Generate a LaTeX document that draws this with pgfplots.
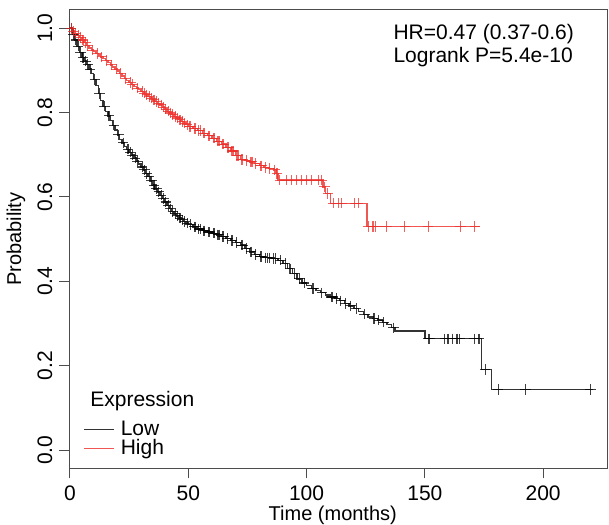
\documentclass[border=0pt]{standalone}
\usepackage{fontspec}
\setmainfont{Liberation Sans}
\usepackage{pgfplots}
\pgfplotsset{compat=1.18}
\usepackage{pgfplotstable}

\definecolor{kmred}{RGB}{236,45,40}

% Low expression: step points (time, survival)
\pgfplotstableread{
t p
0 1.0
1 0.985
2 0.972
3 0.957
4 0.942
5 0.93
6 0.922
7 0.914
8 0.903
9 0.892
10 0.878
11 0.864
12 0.845
13 0.828
14 0.815
15 0.803
16 0.792
17 0.781
18 0.770
19 0.759
20 0.747
21 0.736
22 0.728
23 0.72
24 0.713
25 0.706
26 0.699
27 0.692
28 0.685
29 0.678
30 0.671
31 0.664
32 0.656
33 0.648
34 0.638
35 0.628
36 0.619
37 0.612
38 0.604
39 0.596
40 0.588
41 0.58
42 0.572
43 0.566
44 0.56
45 0.555
46 0.55
47 0.546
48 0.542
49 0.538
50 0.535
52 0.529
54 0.524
56 0.52
58 0.517
60 0.514
62 0.51
64 0.506
66 0.502
68 0.497
70 0.492
72 0.486
74 0.478
76 0.47
78 0.464
80 0.459
82 0.456
85 0.454
88 0.45
90 0.442
92 0.43
94 0.418
96 0.406
98 0.396
100 0.39
102 0.383
104 0.378
106 0.373
108 0.368
110 0.363
112 0.359
114 0.354
116 0.348
118 0.342
120 0.336
122 0.329
124 0.322
126 0.316
128 0.312
130 0.308
132 0.303
134 0.298
136 0.29
137.3 0.282
150 0.264
174 0.191
178.2 0.144
221 0.144
}\lowcurve

% Low expression: censored times
\pgfplotstableread{
t p
0.5 1.0
1.5 0.985
2.5 0.972
3.5 0.957
4.5 0.942
5.5 0.93
6.5 0.922
7.5 0.914
8.5 0.903
10.5 0.878
12.5 0.845
14.5 0.815
16.5 0.792
18.5 0.770
20.5 0.747
22.5 0.728
24.5 0.713
25.5 0.706
26.5 0.699
27.5 0.692
28.5 0.685
30.5 0.671
31.5 0.664
32.5 0.656
33.5 0.648
34.5 0.638
35.5 0.628
36.5 0.619
37.5 0.612
38.5 0.604
39.5 0.596
40.5 0.588
41.5 0.58
42.5 0.572
43.5 0.566
44.5 0.56
45.5 0.555
46.5 0.55
47.5 0.546
48.5 0.542
49.5 0.538
51 0.535
52.5 0.529
53 0.529
54.5 0.524
55 0.524
56.5 0.52
57 0.52
58.5 0.517
59 0.517
60.5 0.514
61 0.514
62.5 0.51
63 0.51
64.5 0.506
65 0.506
66.5 0.502
68.5 0.497
70.5 0.492
72.5 0.486
73 0.486
74.5 0.478
76.5 0.47
78.5 0.464
80.5 0.459
81 0.459
82.5 0.456
83.5 0.456
84.5 0.456
86 0.454
87 0.454
89 0.45
91 0.442
93 0.43
95 0.418
97 0.406
99 0.396
102.5 0.383
103 0.383
106.5 0.373
110.5 0.363
111 0.363
112.5 0.359
114.5 0.354
116.5 0.348
118.5 0.342
121 0.336
124.5 0.322
128.5 0.312
130.5 0.308
132.5 0.303
136.8 0.29
151.4 0.264
152 0.264
158.4 0.264
159.8 0.264
161.7 0.264
163.6 0.264
164.8 0.264
170.8 0.264
172.9 0.264
175.5 0.191
181 0.144
192.5 0.144
220.1 0.144
}\lowcens

% High expression: step points
\pgfplotstableread{
t p
0 1.0
1 0.993
2 0.988
3 0.983
4 0.978
5 0.972
6 0.966
7 0.959
8 0.953
9 0.948
10 0.944
11 0.94
12 0.936
13 0.932
14 0.928
15 0.923
16 0.918
17 0.913
18 0.908
19 0.903
20 0.898
21 0.893
22 0.887
23 0.881
24 0.876
25 0.871
26 0.866
27 0.862
28 0.858
29 0.854
30 0.85
31 0.846
32 0.842
33 0.838
34 0.834
35 0.83
36 0.826
37 0.822
38 0.818
39 0.813
40 0.808
41 0.803
42 0.799
43 0.795
44 0.791
45 0.787
46 0.783
47 0.779
48 0.775
49 0.771
50 0.767
52 0.762
54 0.757
56 0.751
58 0.745
60 0.739
62 0.732
64 0.725
66 0.717
68 0.709
70 0.698
72 0.689
74 0.686
76 0.683
78 0.679
80 0.674
82 0.67
84 0.667
86 0.664
87 0.656
88 0.64
107 0.624
108 0.608
110 0.585
125.5 0.53
173.2 0.53
}\highcurve

% High expression: censored times
\pgfplotstableread{
t p
0.5 1.0
1.5 0.993
2.5 0.988
3.5 0.983
4.5 0.978
5.5 0.972
6.5 0.966
7.5 0.959
9.5 0.948
11.5 0.94
13.5 0.932
15.5 0.923
17.5 0.913
19.5 0.903
21.5 0.893
23.5 0.881
25.5 0.871
26.5 0.866
28.5 0.858
30.5 0.85
31.5 0.846
32.5 0.842
33.5 0.838
34.5 0.834
35.5 0.83
36.5 0.826
37.5 0.822
38.5 0.818
39.5 0.813
40.5 0.808
41.5 0.803
42.5 0.799
43.5 0.795
44.5 0.791
45.5 0.787
46.5 0.783
47.5 0.779
48.5 0.775
49.5 0.771
50.5 0.767
51 0.767
52.5 0.762
53 0.762
54.5 0.757
55 0.757
56.5 0.751
57 0.751
58.5 0.745
59 0.745
60.5 0.739
61 0.739
62.5 0.732
63 0.732
64.5 0.725
65 0.725
66.5 0.717
67 0.717
68.5 0.709
69 0.709
70.5 0.698
71 0.698
72.5 0.689
73 0.689
74.5 0.686
76.5 0.683
77 0.683
78.5 0.679
80.5 0.674
81 0.674
82.5 0.67
84.5 0.667
86.5 0.664
87.5 0.656
88.7 0.64
91.5 0.64
93.6 0.64
95.7 0.64
97.9 0.64
100 0.64
102.1 0.64
104.9 0.64
106.3 0.64
107.5 0.624
109 0.608
111.2 0.585
113.4 0.585
114.8 0.585
120.4 0.585
121.8 0.585
126 0.53
128.1 0.53
129.1 0.53
133.8 0.53
141.5 0.53
151.4 0.53
165.1 0.53
171.1 0.53
}\highcens

\begin{document}
\begin{tikzpicture}
\begin{axis}[
  scale only axis,
  width=268.9pt, height=229.2pt,
  xmin=-0.3, xmax=227,
  ymin=-0.043, ymax=1.043,
  xtick={0,50,100,150,200},
  ytick={0,0.2,0.4,0.6,0.8,1.0},
  yticklabel style={/pgf/number format/fixed, /pgf/number format/fixed zerofill,
    /pgf/number format/precision=1, rotate=90, anchor=south},
  /pgf/number format/assume math mode=true,
  tick align=outside,
  xtick pos=bottom, ytick pos=left,
  major tick length=5pt,
  tick style={black!70, line width=0.5pt},
  axis line style={black!70, line width=0.5pt},
  ticklabel style={font=\fontsize{10.5}{12}\selectfont},
  label style={font=\fontsize{10.5}{12}\selectfont},
  xlabel={Time (months)},
  ylabel={Probability},
  every axis x label/.style={at={(axis description cs:0.49,0)}, anchor=base, yshift=-26pt},
  every axis y label/.style={at={(axis description cs:-0.099,0.5)}, rotate=90, anchor=center},
  legend style={draw=none, fill=none, at={(axis cs:5.5,0.0725)}, anchor=north west,
    inner sep=0pt, row sep=0pt, font=\fontsize{10.5}{12}\selectfont,
    nodes={inner sep=0pt, text height=7.6pt, text depth=1.9pt}},
  legend cell align=left,
  legend image code/.code={\draw[#1] (0pt,0pt) -- (15pt,0pt);},
  clip=false,
]
\addplot[const plot, black, opacity=0.8, line width=0.7pt] table[x=t,y=p] {\lowcurve};
\addlegendentry{\hspace{3pt}Low}
\addplot[const plot, kmred, opacity=0.8, line width=0.7pt] table[x=t,y=p] {\highcurve};
\addlegendentry{\hspace{3pt}High}
\addplot[only marks, mark=+, mark size=2.6pt, black, opacity=0.75, line width=0.55pt, forget plot] table[x=t,y=p] {\lowcens};
\addplot[only marks, mark=+, mark size=2.6pt, kmred, opacity=0.75, line width=0.55pt, forget plot] table[x=t,y=p] {\highcens};
\node[anchor=base west, inner sep=0pt, font=\fontsize{10.5}{12}\selectfont] at (axis cs:136.6,0.973) {HR=0.47 (0.37-0.6)};
\node[anchor=base west, inner sep=0pt, font=\fontsize{10.5}{12}\selectfont] at (axis cs:136.6,0.918) {Logrank P=5.4e-10};
\node[anchor=base west, inner sep=0pt, font=\fontsize{10.5}{12}\selectfont] at (axis cs:8.45,0.104) {Expression};
\coordinate (sw) at (rel axis cs:0,0);
\coordinate (ne) at (rel axis cs:1,1);
\end{axis}
\pgfresetboundingbox
\path[use as bounding box] ([shift={(-34.65pt,-27.9pt)}]sw) rectangle ([shift={(1pt,5pt)}]ne);
\end{tikzpicture}
\end{document}
